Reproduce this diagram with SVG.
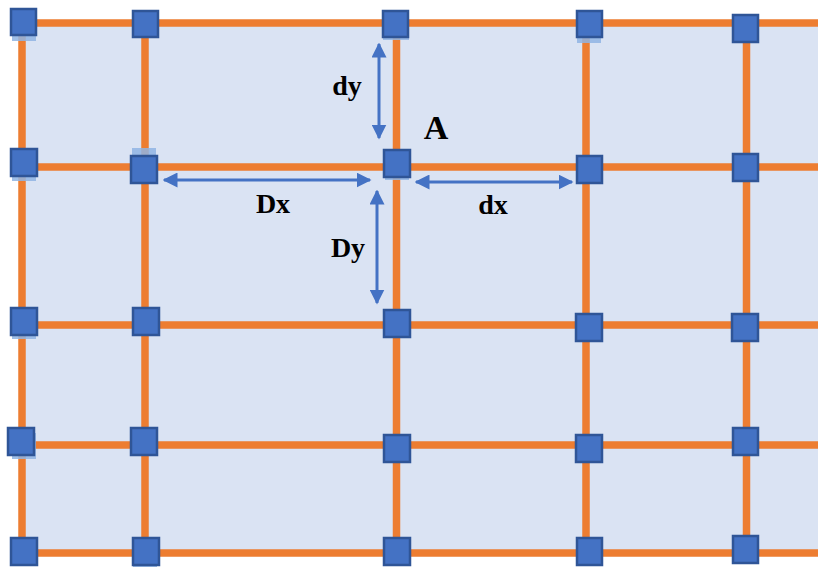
<svg xmlns="http://www.w3.org/2000/svg" width="818" height="568" viewBox="0 0 818 568">
<defs>
<style>
.grid{stroke:#ED7D31;stroke-width:7.5;fill:none}
.node{fill:#4472C4;stroke:#2F5597;stroke-width:2.5}
.shadow{fill:#8FB4E3;opacity:0.85}
.arr{stroke:#4472C4;stroke-width:3;fill:none}
.lbl{font-family:"Liberation Serif","Times New Roman",serif;font-weight:bold;fill:#000}
</style>
<marker id="ah" viewBox="0 0 10 10" refX="9" refY="5" markerWidth="5" markerHeight="5" markerUnits="strokeWidth" orient="auto-start-reverse">
<path d="M0,0 L10,5 L0,10 Z" fill="#4472C4"/>
</marker>
</defs>
<rect x="0" y="0" width="818" height="568" fill="#FFFFFF"/>
<rect x="22" y="23" width="796" height="530" fill="#DAE3F3"/>
<g id="grid-lines">
<line class="grid" x1="22" y1="23" x2="818" y2="23"/>
<line class="grid" x1="22" y1="167" x2="818" y2="167"/>
<line class="grid" x1="22" y1="325" x2="818" y2="325"/>
<line class="grid" x1="22" y1="445" x2="818" y2="445"/>
<line class="grid" x1="22" y1="553" x2="818" y2="553"/>
<line class="grid" x1="22" y1="23" x2="22" y2="553"/>
<line class="grid" x1="145" y1="23" x2="145" y2="553"/>
<line class="grid" x1="396.5" y1="23" x2="396.5" y2="553"/>
<line class="grid" x1="586" y1="23" x2="586" y2="553"/>
<line class="grid" x1="746.5" y1="23" x2="746.5" y2="553"/>
</g>
<g id="shadows">
<rect class="shadow" x="12" y="15" width="24" height="26"/>
<rect class="shadow" x="132" y="148" width="24" height="22"/>
<rect class="shadow" x="577" y="17" width="24" height="26"/>
<rect class="shadow" x="383" y="14" width="26" height="26"/>
<rect class="shadow" x="385" y="152" width="24" height="28"/>
<rect class="shadow" x="12" y="154" width="24" height="27"/>
<rect class="shadow" x="12" y="312" width="24" height="27"/>
<rect class="shadow" x="12" y="433" width="24" height="26"/>
<rect class="shadow" x="133" y="540" width="24" height="27"/>
<rect class="shadow" x="132" y="310" width="25" height="10"/>
</g>
<g id="n-r1c1"><rect class="node" x="11" y="9" width="25" height="26"/></g>
<g id="n-r1c2"><rect class="node" x="133" y="11" width="25" height="26"/></g>
<g id="n-r1c3"><rect class="node" x="383" y="11" width="25" height="26"/></g>
<g id="n-r1c4"><rect class="node" x="577" y="11" width="25" height="26"/></g>
<g id="n-r1c5"><rect class="node" x="733" y="15" width="25" height="27"/></g>
<g id="n-r2c1"><rect class="node" x="11" y="149" width="26" height="27"/></g>
<g id="n-r2c2"><rect class="node" x="131" y="156" width="26" height="27"/></g>
<g id="n-A"><rect class="node" x="384" y="150" width="26" height="27"/></g>
<g id="n-r2c4"><rect class="node" x="577" y="156" width="25" height="27"/></g>
<g id="n-r2c5"><rect class="node" x="733" y="154" width="25" height="27"/></g>
<g id="n-r3c1"><rect class="node" x="11" y="308" width="26" height="27"/></g>
<g id="n-r3c2"><rect class="node" x="133" y="308" width="26" height="27"/></g>
<g id="n-r3c3"><rect class="node" x="384" y="310" width="26" height="27"/></g>
<g id="n-r3c4"><rect class="node" x="576" y="314" width="26" height="27"/></g>
<g id="n-r3c5"><rect class="node" x="732" y="314" width="26" height="27"/></g>
<g id="n-r4c1"><rect class="node" x="8" y="428" width="26" height="27"/></g>
<g id="n-r4c2"><rect class="node" x="131" y="428" width="26" height="27"/></g>
<g id="n-r4c3"><rect class="node" x="384" y="435" width="26" height="27"/></g>
<g id="n-r4c4"><rect class="node" x="576" y="435" width="26" height="27"/></g>
<g id="n-r4c5"><rect class="node" x="733" y="428" width="25" height="27"/></g>
<g id="n-r5c1"><rect class="node" x="11" y="538" width="26" height="27"/></g>
<g id="n-r5c2"><rect class="node" x="133" y="538" width="26" height="27"/></g>
<g id="n-r5c3"><rect class="node" x="384" y="538" width="26" height="27"/></g>
<g id="n-r5c4"><rect class="node" x="577" y="538" width="25" height="27"/></g>
<g id="n-r5c5"><rect class="node" x="733" y="536" width="25" height="27"/></g>
<g id="connectors">
<line class="arr" x1="379" y1="44" x2="379" y2="138" marker-start="url(#ah)" marker-end="url(#ah)"/>
<line class="arr" x1="377" y1="191" x2="377" y2="303" marker-start="url(#ah)" marker-end="url(#ah)"/>
<line class="arr" x1="164" y1="180" x2="370" y2="180" marker-start="url(#ah)" marker-end="url(#ah)"/>
<line class="arr" x1="416" y1="182" x2="572" y2="182" marker-start="url(#ah)" marker-end="url(#ah)"/>
</g>
<g id="labels">
<text class="lbl" x="347" y="95" font-size="28" text-anchor="middle">dy</text>
<text class="lbl" x="436" y="139" font-size="34" text-anchor="middle">A</text>
<text class="lbl" x="273" y="213" font-size="28" text-anchor="middle">Dx</text>
<text class="lbl" x="493" y="214" font-size="28" text-anchor="middle">dx</text>
<text class="lbl" x="348" y="257" font-size="28" text-anchor="middle">Dy</text>
</g>
</svg>
